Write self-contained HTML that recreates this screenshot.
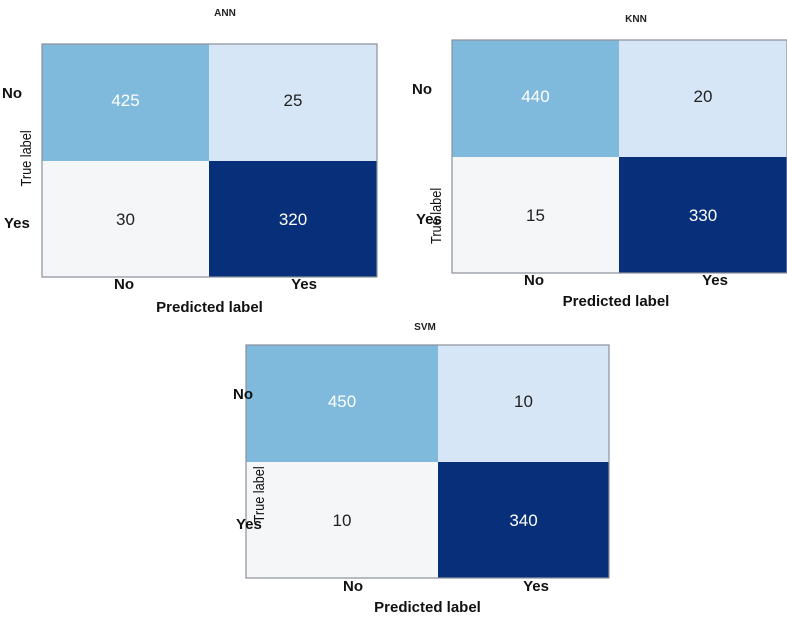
<!DOCTYPE html>
<html><head><meta charset="utf-8">
<style>
body{margin:0;background:#fff;width:787px;height:617px;overflow:hidden;font-family:"Liberation Sans",sans-serif;}
svg text{font-family:"Liberation Sans",sans-serif;}
</style></head>
<body>
<svg id="chart" width="787" height="617" viewBox="0 0 787 617" xmlns="http://www.w3.org/2000/svg"></svg>
<script>
const models = ["ANN","KNN","SVM"];
const annValues = [[425,25],[30,320]];
const knnValues = [[440,20],[15,330]];
const svmValues = [[450,10],[10,340]];
const classLabels = ["No","Yes"];
const allValues = [annValues, knnValues, svmValues];

const layouts = [
  {x0:42,x1:377,y0:44,y1:277,xs:209,ys:161,title:[225,16],rowLx:[2,4],xl:[124,304],xlY:289,predY:312,trueX:26},
  {x0:452,x1:787,y0:40,y1:273,xs:619,ys:157,title:[636,22],rowLx:[412,416],xl:[534,715],xlY:285,predY:306,trueX:436},
  {x0:246,x1:609,y0:345,y1:578,xs:438,ys:462,title:[425,330],rowLx:[233,236],xl:[353,536],xlY:591,predY:612,trueX:259}
];
const cellFill = [["#7fbadc","#d7e6f6"],["#f5f6f7","#08307a"]];
const textFill = [["#ffffff","#222222"],["#222222","#ffffff"]];

const svg = document.getElementById('chart');
const NS = "http://www.w3.org/2000/svg";
function mk(tag, attrs, txt){
  const e=document.createElementNS(NS,tag);
  for(const k in attrs) e.setAttribute(k,attrs[k]);
  if(txt!==undefined) e.textContent=txt;
  svg.appendChild(e); return e;
}
models.forEach((m,mi)=>{
  const L=layouts[mi], vals=allValues[mi];
  const xEdges=[L.x0,L.xs,L.x1], yEdges=[L.y0,L.ys,L.y1];
  const t=mk('text',{x:L.title[0],y:L.title[1],'font-size':10,'font-weight':'bold','text-anchor':'middle',fill:'#222'},m);
  
  
  for(let r=0;r<2;r++)for(let c=0;c<2;c++){
    const rect=mk('rect',{x:xEdges[c],y:yEdges[r],width:xEdges[c+1]-xEdges[c],height:yEdges[r+1]-yEdges[r],fill:cellFill[r][c]});
    
    
    const tx=mk('text',{x:(xEdges[c]+xEdges[c+1])/2,y:r===0?yEdges[r]+62:yEdges[r]+64,'font-size':17,'text-anchor':'middle',fill:textFill[r][c]},String(vals[r][c]));
    
    
  }
  const fr=mk('rect',{x:L.x0,y:L.y0,width:L.x1-L.x0,height:L.y1-L.y0,fill:'none',stroke:'#8a9099','stroke-width':1.2});
  
  
  classLabels.forEach((cl,i)=>{
    const rl=mk('text',{x:L.rowLx[i],y:i===0?L.y0+54:L.y0+184,'font-size':15,'font-weight':'bold',fill:'#111'},cl);
    
    
    const xl=mk('text',{x:L.xl[i],y:L.xlY,'font-size':15,'font-weight':'bold','text-anchor':'middle',fill:'#111'},cl);
    
    
  });
  const pl=mk('text',{x:(L.x0+Math.min(L.x1,780))/2,y:L.predY,'font-size':15,'font-weight':'bold','text-anchor':'middle',fill:'#111'},'Predicted label');
  
  
  const cy=(L.y0+L.y1)/2-6;
  const tl=mk('text',{x:L.trueX,y:cy,'font-size':15,'text-anchor':'middle',fill:'#111',transform:'rotate(-90 '+L.trueX+' '+cy+') translate(0 5) scale(0.85 1)','font-weight':'normal'},'True label');
  
  
});
</script>
</body></html>
